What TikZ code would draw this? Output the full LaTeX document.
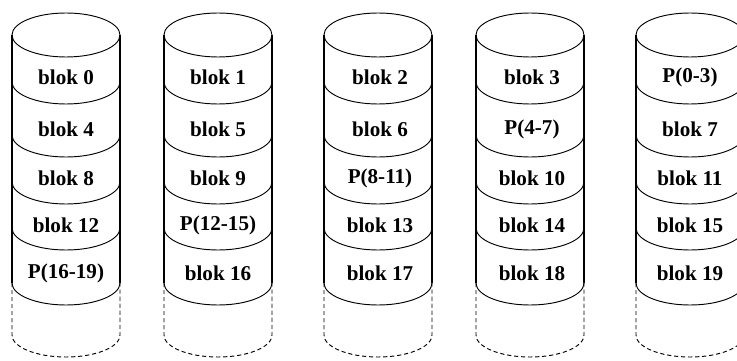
\documentclass[tikz,border=0pt]{standalone}
\usepackage{fontspec}
\setmainfont{Liberation Serif}
\usepackage{tikz}

\begin{document}
\begin{tikzpicture}[x=0.03cm, y=0.03cm]
  % Set the styles
  \tikzset{disklabel/.style={font=\fontsize{18}{21}\selectfont\bfseries, inner sep=0pt},
           diskside/.style={line width=1.3pt},
           diskrim/.style={line width=0.8pt},
           diskend/.style={line width=0.8pt, dash pattern=on 3.5pt off 2.5pt}}

  \useasboundingbox (0,0) rectangle (737,360);

  % Draw the disks
  \foreach \d/\cx in {0/66,1/218,2/378,3/530,4/690}{
    \draw[diskrim] (\cx,325) ellipse (54 and 22);
    \draw[diskside] (\cx-54,325) -- (\cx-54,77);
    \draw[diskside] (\cx+54,325) -- (\cx+54,77);
    % separators below each block
    \foreach \y in {278,225,178,132,77}{
      \draw[diskrim] (\cx-54,\y) arc[start angle=180, end angle=360, x radius=54, y radius=22];
    }
    % open end of the disk
    \draw[diskend] (\cx-54,77) -- (\cx-54,25)
      arc[start angle=180, end angle=360, x radius=54, y radius=22] -- (\cx+54,77);
  }

  % Put the blocks on the disks
  \foreach \d/\cx/\blocks in {0/66/{blok 0,blok 4,blok 8,blok 12,P(16-19)},
                              1/218/{blok 1,blok 5,blok 9,P(12-15),blok 16},
                              2/380/{blok 2,blok 6,P(8-11),blok 13,blok 17},
                              3/532/{blok 3,P(4-7),blok 10,blok 14,blok 18},
                              4/690/{P(0-3),blok 7,blok 11,blok 15,blok 19}}{
    \foreach \t [count=\r, evaluate=\r as \ly using {int(\r==1)*283+int(\r==2)*231+int(\r==3)*182+int(\r==4)*135+int(\r==5)*87}] in \blocks{
      \node[disklabel] (b\d-\r) at (\cx,\ly) {\t};
    }
  }
\end{tikzpicture}
\end{document}
